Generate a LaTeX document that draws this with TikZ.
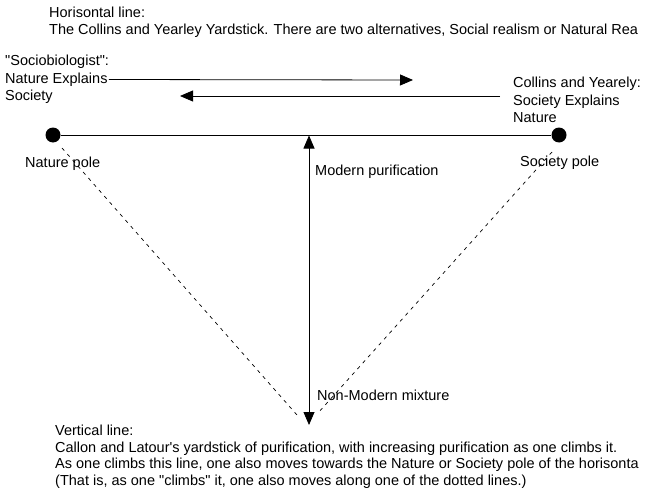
\documentclass[tikz,border=0pt]{standalone}
\usepackage{fontspec}
\setmainfont{Liberation Sans}[Ligatures={TeXOff,NoCommon}]
\usetikzlibrary{arrows.meta}
\begin{document}
\begin{tikzpicture}[x=1pt,y=-1pt,
  txt/.style={anchor=base west,inner sep=0pt,font=\fontsize{14.5}{17}\selectfont},
  pole/.style={circle,fill=black,inner sep=0pt,minimum size=15pt},
  arr/.style={line width=0.8pt,-{Triangle[length=13pt,width=11pt]}},
  darr/.style={line width=0.8pt,{Triangle[length=13pt,width=11pt]}-{Triangle[length=13pt,width=11pt]}},
  dline/.style={line width=0.7pt,dash pattern=on 3.5pt off 4.5pt}]
\useasboundingbox[fill=white] (0,0) rectangle (661,495);
% texts
\node[txt] (h1) at (49,18) {Horisontal line:};
\node[txt] (h2) at (49,35) {The Collins and Yearley Yardstick. There are two alternatives, Social realism or Natural Rea};
\node[txt] (s1) at (5,66) {"Sociobiologist":};
\node[txt] (natexp) at (5,83) {Nature Explains};
\node[txt] (s3) at (5,100) {Society};
\node[txt] (c1) at (513,88) {Collins and Yearely:};
\node[txt] (c2) at (513,105) {Society Explains};
\node[txt] (c3) at (513,122) {Nature};
\node[txt] (np) at (25,167) {Nature pole};
\node[txt] (sp) at (520,166) {Society pole};
\node[txt] (mp) at (315,175) {Modern purification};
\node[txt] (nm) at (317,400) {Non-Modern mixture};
\node[txt] (v1) at (55,435) {Vertical line:};
\node[txt] (v2) at (55,452) {Callon and Latour's yardstick of purification, with increasing purification as one climbs it.};
\node[txt] (v3) at (55,468) {As one climbs this line, one also moves towards the Nature or Society pole of the horisonta};
\node[txt] (v4) at (55,485) {(That is, as one "climbs" it, one also moves along one of the dotted lines.)};
% poles
\node[pole] (npole) at (53,135) {};
\node[pole] (spole) at (559,135) {};
\coordinate (vtop) at (309,135.5);
\coordinate (vbot) at (309,425);
\coordinate (a1e) at (413,80);
\coordinate (a2s) at (500,96);
\coordinate (a2e) at (180,96);
\coordinate (ld1) at (62,148);
\coordinate (ld2) at (297,415);
\coordinate (rd1) at (552,152);
\coordinate (rd2) at (318,413);
% lines
\draw[line width=0.8pt] (npole) -- (spole);
\draw[darr] (vbot) -- (vtop);
\draw[arr] (natexp.base east) ++(1,-3.5) -- (a1e);
\draw[arr] (a2s) -- (a2e);
\draw[dline] (ld1) -- (ld2);
\draw[dline] (rd1) -- (rd2);
\end{tikzpicture}
\end{document}
